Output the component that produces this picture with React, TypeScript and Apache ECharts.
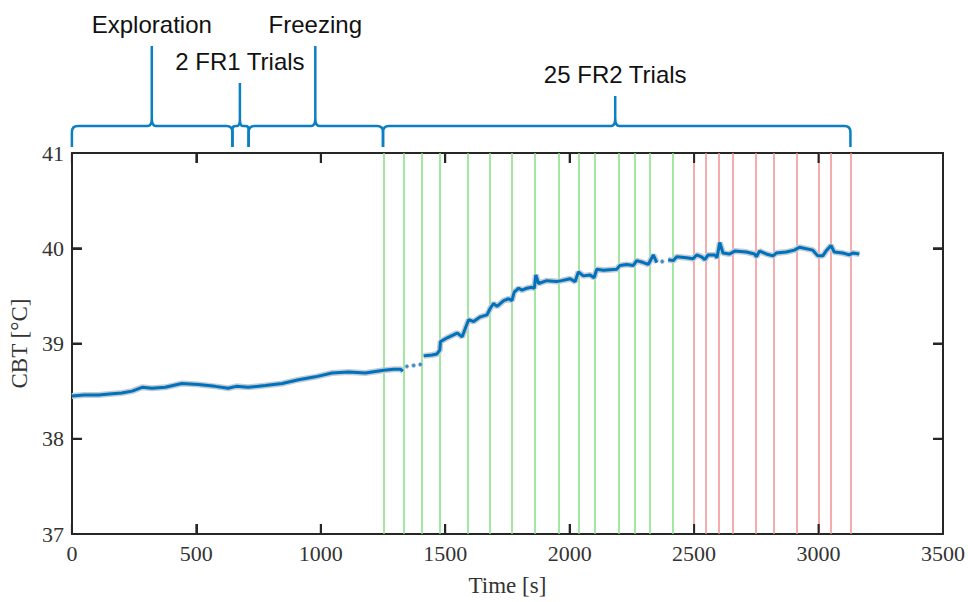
import React, { useEffect, useRef } from "react";
import * as echarts from "echarts";

// ---- data ----
const timeS: number[] = [
  0, 50, 107, 150, 200, 242, 282, 322, 375, 442, 508, 576, 628, 660, 708, 777, 845, 911, 978, 1045, 1112, 1179,
  1253, 1293, 1320, 1330,
];
const cbtC: number[] = [
  38.45, 38.46, 38.46, 38.47, 38.48, 38.5, 38.54, 38.53, 38.54, 38.58, 38.57, 38.55, 38.53, 38.55, 38.54, 38.56,
  38.58, 38.62, 38.65, 38.69, 38.7, 38.69, 38.72, 38.73, 38.73, 38.71,
];
const timeS2: number[] = [
  1413, 1447, 1467, 1478, 1481, 1508, 1548, 1568, 1581, 1594, 1614, 1641, 1668, 1681, 1694, 1708, 1735, 1755, 1768,
  1777, 1795, 1808, 1828, 1848, 1858, 1864, 1875, 1908, 1948, 1968, 2002, 2022, 2035, 2055, 2082, 2098, 2109, 2135,
  2189, 2202, 2229, 2256, 2269, 2296, 2316, 2336, 2350,
];
const cbtC2: number[] = [
  38.87, 38.88, 38.89, 38.93, 39.02, 39.06, 39.11, 39.07, 39.16, 39.25, 39.23, 39.28, 39.3, 39.37, 39.42, 39.39,
  39.45, 39.47, 39.45, 39.54, 39.58, 39.56, 39.58, 39.59, 39.58, 39.72, 39.63, 39.66, 39.65, 39.66, 39.68, 39.65,
  39.75, 39.71, 39.72, 39.69, 39.78, 39.77, 39.78, 39.82, 39.83, 39.82, 39.87, 39.85, 39.83, 39.93, 39.85,
];
const timeS3: number[] = [
  2396, 2416, 2430, 2470, 2496, 2510, 2530, 2543, 2556, 2583, 2592, 2603, 2616, 2643, 2663, 2710, 2743, 2750, 2763,
  2790, 2817, 2830, 2870, 2903, 2923, 2977, 2997, 3017, 3030, 3050, 3063, 3097, 3124, 3137, 3164,
];
const cbtC3: number[] = [
  39.88, 39.87, 39.91, 39.9, 39.89, 39.93, 39.91, 39.88, 39.93, 39.93, 39.9, 40.06, 39.95, 39.94, 39.97, 39.96,
  39.94, 39.91, 39.97, 39.94, 39.92, 39.95, 39.96, 39.98, 40.01, 39.98, 39.92, 39.92, 39.97, 40.03, 39.96, 39.95,
  39.93, 39.95, 39.94,
];
const dotTimes: number[] = [1346, 1373, 1400, 2372];
const dotCbt: number[] = [38.76, 38.77, 38.78, 39.86];

const greenTrials: number[] = [
  1252, 1334, 1406, 1477, 1591, 1678, 1766, 1859, 1958, 2035, 2102, 2196, 2263, 2323, 2416,
];
const redTrials: number[] = [2499, 2548, 2598, 2657, 2749, 2821, 2911, 3001, 3050, 3128];

const braceLabels: string[] = ["Exploration", "2 FR1 Trials", "Freezing", "25 FR2 Trials"];
const braceStart: number[] = [0, 645, 710, 1250];
const braceEnd: number[] = [645, 710, 1250, 3128];
const bracePeak: number[] = [321, 675, 978, 2183];

const xTicks: number[] = [0, 500, 1000, 1500, 2000, 2500, 3000, 3500];
const yTicks: number[] = [37, 38, 39, 40, 41];

// ---- layout (pixels above grid top) ----
const braceLabelOffset = [129, 92, 129, 79];

const BLUE = "#0a80c2";
const FRAME = "#262626";
const TL = 10;

function buildSeg(t: number[], v: number[]) {
  return t.map((x, i) => [x, v[i]]);
}

const mkLine = () => ({ show: true, onZero: false, lineStyle: { color: FRAME, width: 2 } });
const mkTick = () => ({ show: true, inside: true, length: TL, lineStyle: { color: FRAME, width: 2 } });
const plainX = (position: string) => ({
  type: "value",
  min: 0,
  max: 3500,
  interval: 500,
  position,
  axisLine: mkLine(),
  axisTick: mkTick(),
  splitLine: { show: false },
  axisLabel: { show: false },
});
const plainY = (position: string) => ({
  type: "value",
  min: 37,
  max: 41,
  interval: 1,
  position,
  axisLine: mkLine(),
  axisTick: mkTick(),
  splitLine: { show: false },
  axisLabel: { show: false },
});

export default function App() {
  const ref = useRef<HTMLDivElement>(null);
  useEffect(() => {
    if (!ref.current) return;
    const chart = echarts.init(ref.current, undefined, { renderer: "svg" });
    const lineData: any[] = [
      ...buildSeg(timeS, cbtC),
      [null, null],
      ...buildSeg(timeS2, cbtC2),
      [null, null],
      ...buildSeg(timeS3, cbtC3),
    ];
    const dots = buildSeg(dotTimes, dotCbt);
    const trialMarks = [
      ...greenTrials.map((t) => ({ xAxis: t, lineStyle: { color: "#86de86", width: 1.5, type: "solid" } })),
      ...redTrials.map((t) => ({ xAxis: t, lineStyle: { color: "#f19292", width: 1.5, type: "solid" } })),
    ];
    const braceData = braceLabels.map((_, i) => [braceStart[i], 41, braceEnd[i], bracePeak[i], i]);
    const tickData = [...xTicks.map((v) => [v, 37, 0]), ...yTicks.map((v) => [0, v, 1])];

    const serif = "'Liberation Serif', 'DejaVu Serif', serif";
    const sans = "'Liberation Sans', Arial, sans-serif";

    chart.setOption({
      animation: false,
      grid: { left: 71, right: 25, top: 153, bottom: 64, containLabel: false },
      xAxis: [
        {
          type: "value",
          min: 0,
          max: 3500,
          interval: 500,
          position: "bottom",
          axisLine: mkLine(),
          axisTick: mkTick(),
          splitLine: { show: false },
          axisLabel: {
            color: "#333",
            fontFamily: serif,
            fontSize: 22,
            margin: 8,
            formatter: (v: number) => (xTicks.includes(v) ? String(v) : ""),
          },
          name: "Time [s]",
          nameLocation: "middle",
          nameGap: 40,
          nameTextStyle: { color: "#333", fontFamily: serif, fontSize: 23 },
        },
        plainX("top"),
      ],
      yAxis: [
        {
          type: "value",
          min: 37,
          max: 41,
          interval: 1,
          position: "left",
          axisLine: mkLine(),
          axisTick: mkTick(),
          splitLine: { show: false },
          axisLabel: {
            color: "#333",
            fontFamily: serif,
            fontSize: 22,
            margin: 8,
            formatter: (v: number) => (yTicks.includes(v) ? String(v) : ""),
          },
          name: "CBT [°C]",
          nameLocation: "middle",
          nameGap: 36,
          nameRotate: 90,
          nameTextStyle: { color: "#333", fontFamily: serif, fontSize: 23 },
        },
        plainY("right"),
      ],
      series: [
        {
          type: "line",
          name: "halo",
          data: lineData,
          showSymbol: false,
          connectNulls: false,
          lineStyle: { color: "#c3ccd3", width: 6 },
          z: 2,
          silent: true,
          markLine: {
            silent: true,
            symbol: "none",
            label: { show: false },
            data: trialMarks,
            z: 1,
          },
        },
        {
          type: "line",
          name: "CBT",
          data: lineData,
          showSymbol: false,
          connectNulls: false,
          lineStyle: { color: "#0072bd", width: 3 },
          z: 3,
          silent: true,
        },
        {
          type: "scatter",
          data: dots,
          symbolSize: 4,
          itemStyle: { color: "#0072bd", borderColor: "#c3ccd3", borderWidth: 1 },
          z: 3,
          silent: true,
        },
        {
          type: "custom",
          data: tickData,
          clip: false,
          silent: true,
          z: 6,
          renderItem: (params: any, api: any) => {
            const kind = api.value(2);
            if (kind === 0) {
              const v = api.value(0);
              const b = api.coord([v, 37]);
              const t = api.coord([v, 41]);
              return {
                type: "group",
                children: [
                  { type: "line", shape: { x1: b[0], y1: b[1], x2: b[0], y2: b[1] - TL }, style: { stroke: FRAME, lineWidth: 2 } },
                  { type: "line", shape: { x1: t[0], y1: t[1], x2: t[0], y2: t[1] + TL }, style: { stroke: FRAME, lineWidth: 2 } },
                ],
              };
            }
            const v = api.value(1);
            const l = api.coord([0, v]);
            const r = api.coord([3500, v]);
            return {
              type: "group",
              children: [
                { type: "line", shape: { x1: l[0], y1: l[1], x2: l[0] + TL, y2: l[1] }, style: { stroke: FRAME, lineWidth: 2 } },
                { type: "line", shape: { x1: r[0], y1: r[1], x2: r[0] - TL, y2: r[1] }, style: { stroke: FRAME, lineWidth: 2 } },
              ],
            };
          },
        },
        {
          type: "custom",
          data: braceData,
          clip: false,
          silent: true,
          z: 5,
          renderItem: (params: any, api: any) => {
            const x0 = api.coord([api.value(0), 41])[0];
            const top = api.coord([api.value(0), 41])[1];
            const x1 = api.coord([api.value(2), 41])[0];
            const xm = api.coord([api.value(3), 41])[0];
            const idx = api.value(4);
            const yl = top - 27;
            const ye = top - 6;
            const labelY = top - braceLabelOffset[idx];
            const stemTop = labelY + 22;
            const r = Math.min(6, (x1 - x0) / 5);
            const c = Math.min(4, (x1 - x0) / 6);
            const d =
              `M ${x0} ${ye} L ${x0} ${yl + r} Q ${x0} ${yl} ${x0 + r} ${yl} ` +
              `L ${xm - c} ${yl} Q ${xm} ${yl} ${xm} ${yl - 8} L ${xm} ${stemTop} ` +
              `M ${xm} ${yl - 8} Q ${xm} ${yl} ${xm + c} ${yl} ` +
              `L ${x1 - r} ${yl} Q ${x1} ${yl} ${x1} ${yl + r} L ${x1} ${ye}`;
            return {
              type: "group",
              children: [
                {
                  type: "path",
                  shape: { pathData: d },
                  style: { stroke: BLUE, lineWidth: 2.5, fill: null },
                },
                {
                  type: "text",
                  x: xm,
                  y: labelY,
                  style: {
                    text: braceLabels[idx],
                    fill: "#111",
                    font: `24px ${sans}`,
                    align: "center",
                    verticalAlign: "middle",
                    textAlign: "center",
                    textVerticalAlign: "middle",
                  },
                },
              ],
            };
          },
        },
      ],
    });
    return () => chart.dispose();
  }, []);
  return <div ref={ref} style={{ width: 968, height: 602, position: "absolute", left: 0, top: 0 }} />;
}
